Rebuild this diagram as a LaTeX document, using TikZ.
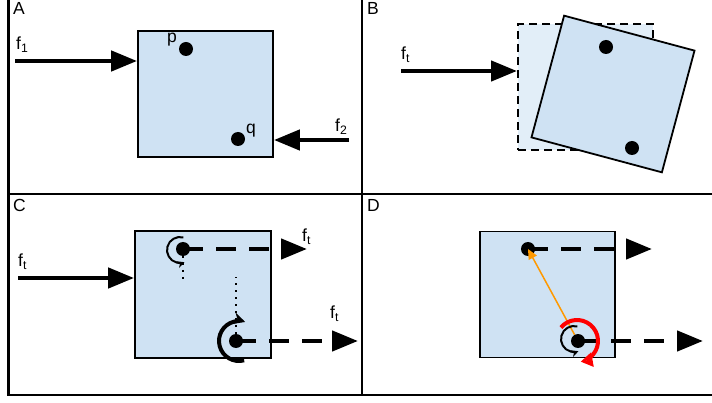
\documentclass[tikz,border=0pt]{standalone}
\usepackage{fontspec}
\setmainfont{Liberation Sans}
\usetikzlibrary{arrows.meta}
\definecolor{boxblue}{HTML}{CFE2F3}
\definecolor{ghostblue}{HTML}{E2EEF8}
\definecolor{leverorange}{HTML}{FF9900}
\definecolor{spinred}{HTML}{FF0000}
\tikzset{
  frame/.style={line width=2.5pt},
  body/.style={rectangle, draw, fill=boxblue, line width=1.8pt, minimum width=135pt, minimum height=126pt, inner sep=0pt},
  ghost/.style={body, fill=ghostblue, line width=2pt, dash pattern=on 8pt off 5pt},
  dot/.style={circle, fill=black, inner sep=0pt, minimum size=14pt},
  force/.style={line width=4.5pt, -{Triangle[length=26pt, width=20pt]}},
  forcedash/.style={force, dash pattern=on 20pt off 13pt},
  lbl/.style={inner sep=0pt, anchor=base west, font=\fontsize{17.5}{20}\selectfont},
  plumb/.style={line width=2pt, dash pattern=on 2pt off 5pt},
  spin/.style={line width=2pt, -{Stealth[length=7pt, width=7pt]}},
  bigspin/.style={line width=4pt, -{Stealth[length=12pt, width=12pt]}},
  redspin/.style={spinred, line width=4pt, -{Triangle[open, length=12pt, width=14pt]}},
  lever/.style={leverorange, line width=1.5pt, -{Triangle[length=10pt, width=9pt]}}
}

\begin{document}
\begin{tikzpicture}[x=1pt, y=-1pt]
  \useasboundingbox (0,0) rectangle (712,403);
  % Panel grid
  \draw[frame] (8.5,0) -- (8.5,395) -- (712,395);
  \draw[frame] (362,0) -- (362,395);
  \draw[frame] (8.5,194) -- (712,194);
  \node[lbl] (tagA) at (13,15) {A};
  \node[lbl] (tagB) at (367,15) {B};
  \node[lbl] (tagC) at (13,212) {C};
  \node[lbl] (tagD) at (367,212) {D};

  % A: two forces on the body
  \node[body] (sqA) at (205.5,94) {};
  \node[dot] (p) at (186,49) {};
  \node[dot] (q) at (238,139) {};
  \node[lbl, anchor=base] (plbl) at (172,43) {p};
  \node[lbl, anchor=base] (qlbl) at (251,134) {q};
  \coordinate (f1s) at (15,61);
  \coordinate (f2s) at (349,140);
  \draw[force] (f1s) -- (f1s -| sqA.west);
  \draw[force] (f2s) -- (f2s -| sqA.east);
  \node[lbl] (f1) at (16,50) {f\textsubscript{1}};
  \node[lbl] (f2) at (335,132) {f\textsubscript{2}};

  % B: body turns under ft
  \node[ghost] (sqBold) at (585.5,87.5) {};
  \node[body, rotate=-15] (sqB) at (613,94) {};
  \node[dot] (pB) at (606,47) {};
  \node[dot] (qB) at (632,148) {};
  \coordinate (ftBs) at (401,71);
  \draw[force] (ftBs) -- (ftBs -| sqBold.west);
  \node[lbl] (ftB) at (401,60) {f\textsubscript{t}};

  % C: ft carried to the points
  \node[body, minimum width=136pt, minimum height=127pt] (sqC) at (203,294.5) {};
  \node[dot] (c1) at (183,249) {};
  \node[dot] (c2) at (236,341) {};
  \coordinate (ftCs) at (18,278);
  \draw[force] (ftCs) -- (ftCs -| sqC.west);
  \node[lbl] (ftC) at (18,267) {f\textsubscript{t}};
  \draw[plumb] (c1.center) -- ++(0,30);
  \draw[plumb] (c2.center) -- ++(0,-64);
  \coordinate (c1e) at (307,249);
  \coordinate (c2e) at (358,341);
  \draw[forcedash] (c1.center) -- (c1e);
  \draw[forcedash] (c2.center) -- (c2e);
  \node[lbl] (ftC1) at (302,242) {f\textsubscript{t}};
  \node[lbl] (ftC2) at (330,319) {f\textsubscript{t}};
  \coordinate (c1spin) at (180,250);
  \coordinate (c2spin) at (239,341);
  \draw[spin] ([shift={(285:13)}]c1spin) arc[start angle=285, end angle=70, radius=13];
  \draw[bigspin] ([shift={(75:20)}]c2spin) arc[start angle=75, end angle=288, radius=20];

  % D: lever arm between the points
  \node[body] (sqD) at (547.5,294.5) {};
  \node[dot] (d1) at (528,249) {};
  \node[dot] (d2) at (578,341) {};
  \coordinate (d1e) at (652,249);
  \coordinate (d2e) at (703,341);
  \draw[forcedash] (d1.center) -- (d1e);
  \draw[forcedash] (d2.center) -- (d2e);
  \draw[lever] (d2) -- (d1.center);
  \coordinate (d2spin) at (574,339);
  \coordinate (d2red) at (577,341);
  \draw[spin] ([shift={(285:13)}]d2spin) arc[start angle=285, end angle=70, radius=13];
  \draw[redspin] ([shift={(220:21)}]d2red) arc[start angle=220, end angle=440, radius=21];
\end{tikzpicture}
\end{document}
